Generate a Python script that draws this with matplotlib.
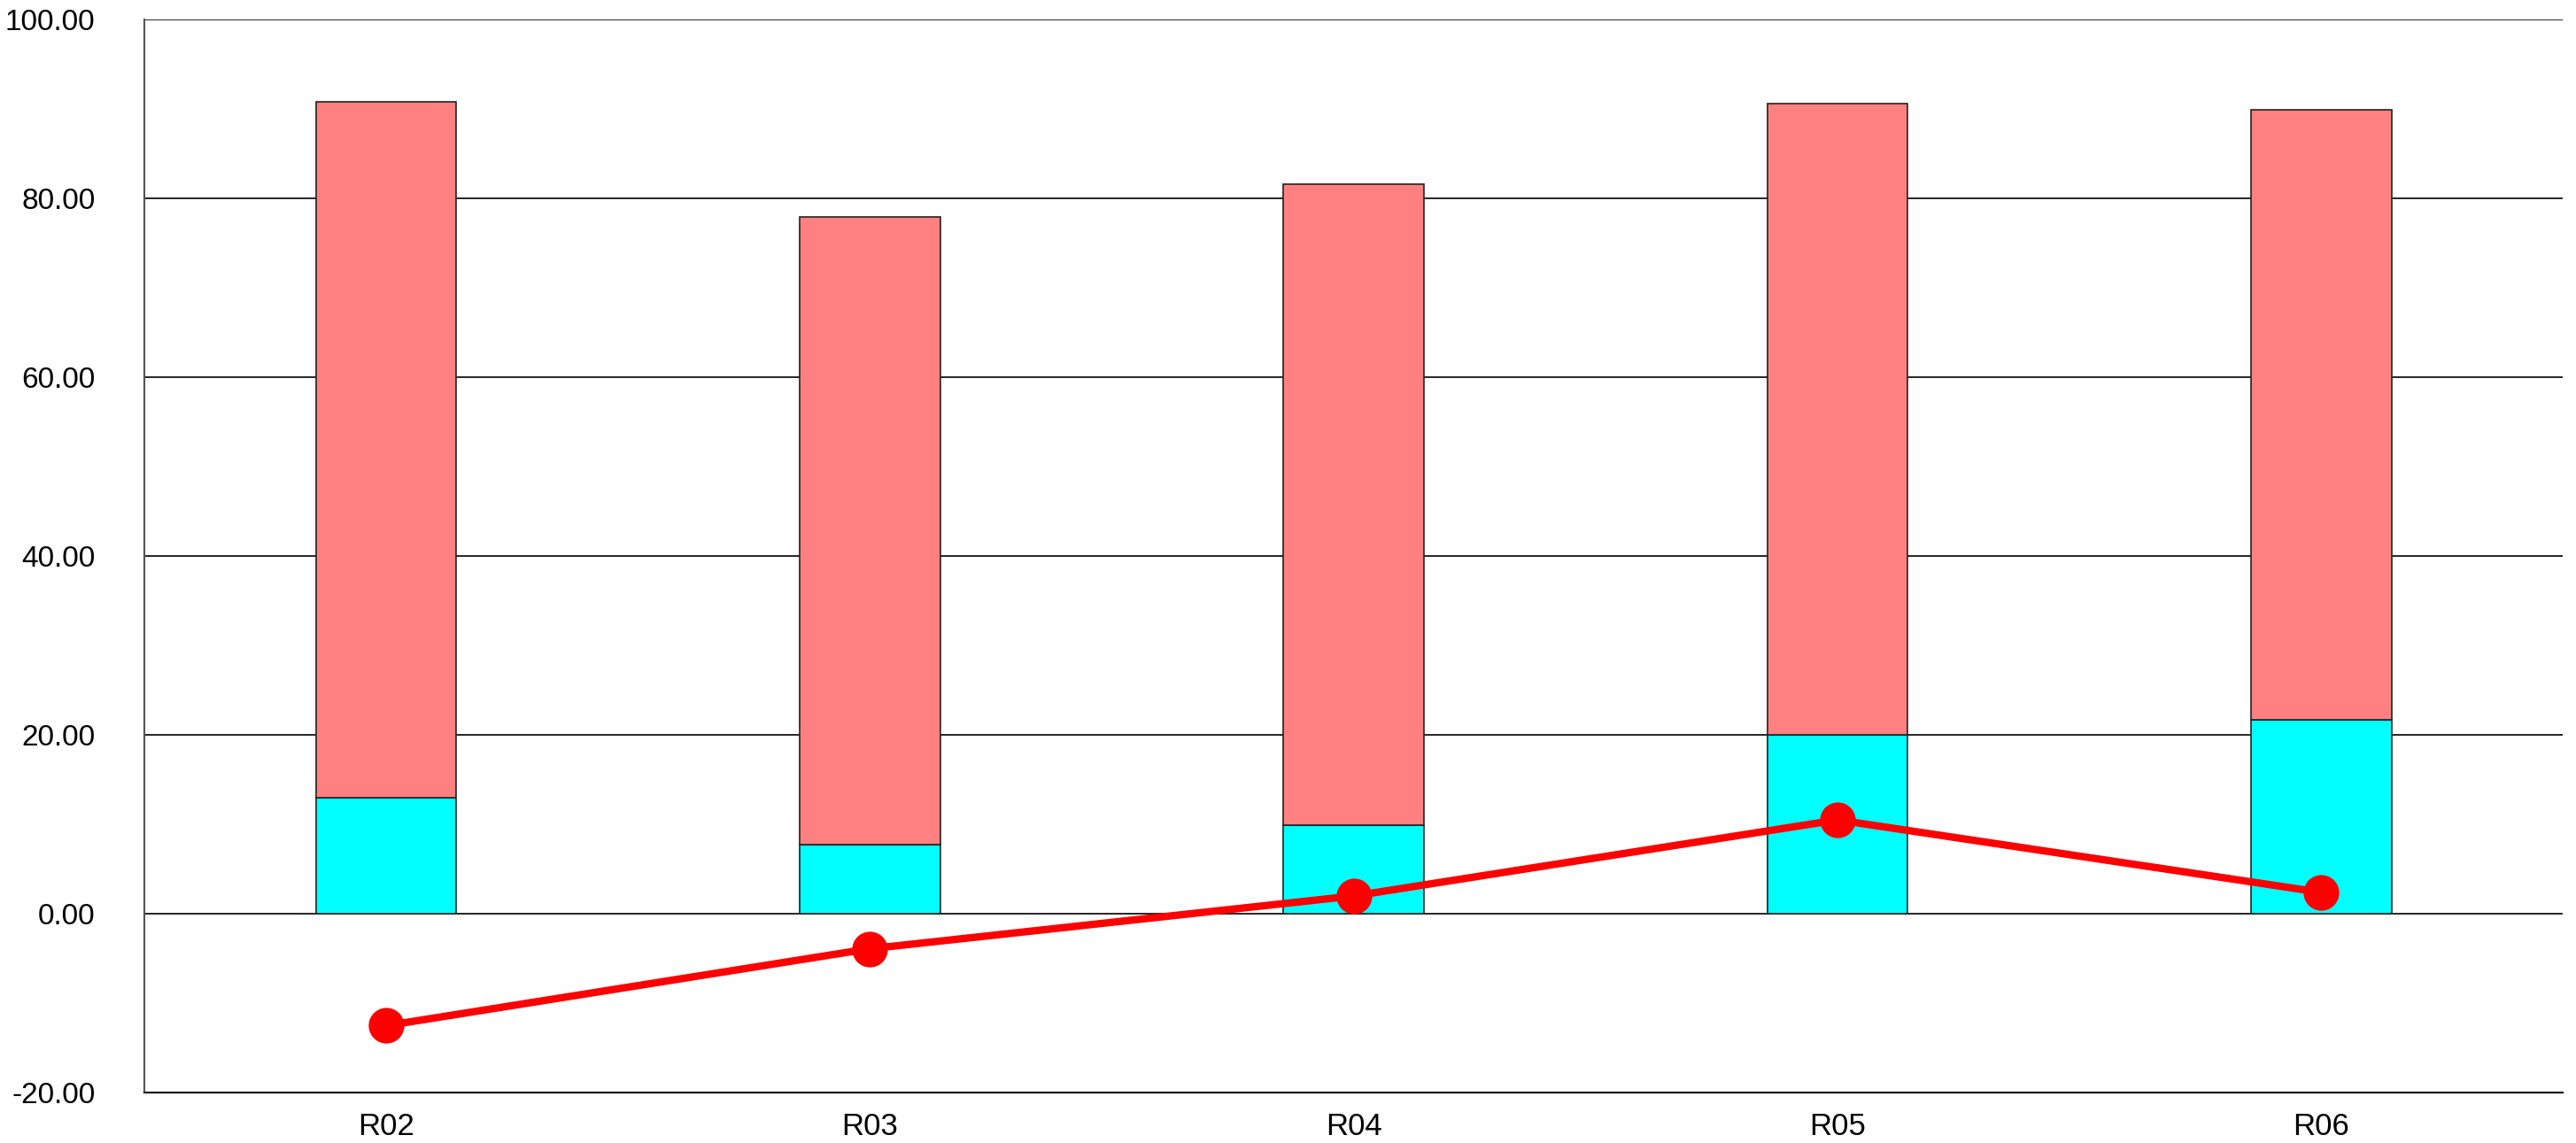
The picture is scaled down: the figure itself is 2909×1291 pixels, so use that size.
import matplotlib.pyplot as plt
import numpy as np

# Data
regions = ['R02', 'R03', 'R04', 'R05', 'R06']
base_values = [13.0, 7.7, 9.9, 20.0, 21.7]      # cyan segment
upper_values = [77.8, 70.2, 71.7, 70.6, 68.2]   # pink segment stacked on top
line_values = [-12.5, -3.9, 2.0, 10.5, 2.4]
y_ticks = [-20, 0, 20, 40, 60, 80, 100]

plt.rcParams['font.family'] = ['Liberation Sans', 'DejaVu Sans']

fig = plt.figure(figsize=(29.09, 12.91), dpi=100)
ax = fig.add_axes([0.056, 0.044, 0.939, 0.939])

x = np.arange(len(regions))
width = 0.29

ax.bar(x, base_values, width, color='#00FFFF', edgecolor='#222222', linewidth=1.2, zorder=2)
ax.bar(x, upper_values, width, bottom=base_values, color='#FF8080',
       edgecolor='#222222', linewidth=1.2, zorder=2)
ax.plot(x, line_values, color='#FF0000', linewidth=6, marker='o', markersize=29,
        markeredgewidth=0, zorder=3)

ax.set_xlim(-0.5, len(regions) - 0.5)
ax.set_ylim(-20, 100)
ax.set_yticks(y_ticks)
ax.set_yticklabels([f'{v:.2f}' for v in y_ticks])
ax.set_xticks(x)
ax.set_xticklabels(regions)

for v in y_ticks[1:]:
    ax.axhline(v, color='#000000', linewidth=1.2, zorder=1)

ax.spines['right'].set_visible(False)
ax.spines['top'].set_visible(False)
ax.spines['left'].set_color('#555555')
ax.spines['bottom'].set_color('#000000')
ax.spines['left'].set_linewidth(1.5)
ax.spines['bottom'].set_linewidth(1.5)

ax.tick_params(axis='y', length=0, pad=40, labelsize=24)
ax.tick_params(axis='x', length=0, pad=16, labelsize=25)

plt.savefig('out.png', dpi=100)
